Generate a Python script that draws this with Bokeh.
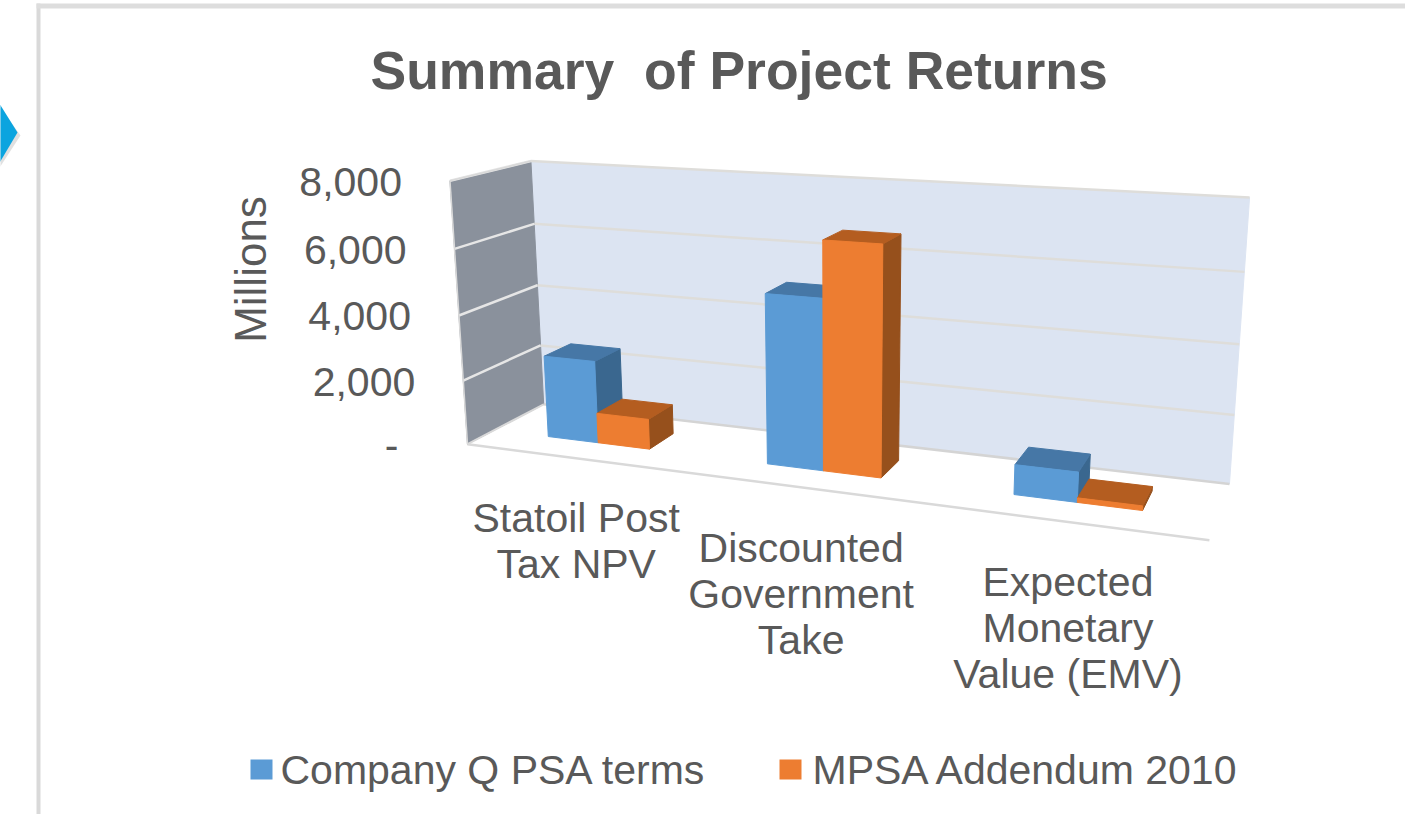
import numpy as np
from bokeh.plotting import figure
from bokeh.models import Range1d
from bokeh.core.properties import value
from bokeh.embed import file_html
from bokeh.resources import INLINE

# ---- data ----
title = "Summary\u00a0 of Project Returns"
y_title = "Millions"
categories = ["Statoil Post\nTax NPV", "Discounted\nGovernment\nTake", "Expected\nMonetary\nValue (EMV)"]
series_names = ["Company Q PSA terms", "MPSA Addendum 2010"]
company_q = [2550, 5050, 860]
mpsa = [930, 6690, 130]
y_ticks = [0, 2000, 4000, 6000, 8000]
y_tick_labels = ["-", "2,000", "4,000", "6,000", "8,000"]
y_max = 8000

# ---- colours ----
INK = "#595959"
BLUE = ("#5B9BD5", "#4677A6", "#3A678F")
ORANGE = ("#ED7D31", "#B45D20", "#96501C")
FONT = value("Liberation Sans")

# ---- camera: a projective map fitted to the box of the 3-D chart ----
# world = (category position 0..3, share of y axis 0..1, depth 0..1) -> page pixel
calib = [
    ((0, 0, 1), (552, 412)), ((0, .25, 1), (549, 352)), ((0, .5, 1), (545, 293)),
    ((0, .75, 1), (541, 230)), ((0, 1, 1), (538, 169)),
    ((3, 0, 1), (1237, 491)), ((3, .25, 1), (1242, 422)), ((3, .5, 1), (1247, 352)),
    ((3, .75, 1), (1252, 280)), ((3, 1, 1), (1257, 206)),
    ((0, 0, 0), (475, 452)), ((0, .25, 0), (471, 388)), ((0, .5, 0), (467, 323)),
    ((0, .75, 0), (463, 256)), ((0, 1, 0), (457, 188)), ((3, 0, 0), (1218, 546)),
    ((.5, 0, .34), (604, 452)), ((1.5, 0, .34), (830, 479)), ((2.5, 0, .34), (1084, 510)),
]
A, b = [], []
for (X, Y, Z), (u, v) in calib:
    A.append([X, Y, Z, 1, 0, 0, 0, 0, -u * X, -u * Y, -u * Z]); b.append(u)
    A.append([0, 0, 0, 0, X, Y, Z, 1, -v * X, -v * Y, -v * Z]); b.append(v)
h = np.linalg.lstsq(np.array(A, float), np.array(b, float), rcond=None)[0]
H = np.append(h, 1.0).reshape(3, 4)


def proj(X, Y, Z):
    r = H @ np.array([X, Y, Z, 1.0])
    return r[0] / r[2], r[1] / r[2]


def poly(pts):
    s = [proj(*q) for q in pts]
    return [q[0] for q in s], [q[1] for q in s]


# ---- page: one data unit is one pixel of the reference ----
p = figure(width=1405, height=814, output_backend="svg", toolbar_location=None,
           x_range=Range1d(8, 1413), y_range=Range1d(822, 8),
           x_axis_location=None, y_axis_location=None, min_border=0,
           outline_line_color=None, background_fill_color="white", border_fill_color="white")
p.grid.visible = False


def face(pts, color, line=None, width=1):
    x, y = poly(pts)
    p.patch(x, y, fill_color=color, line_color=line or color, line_width=width)


def seg(a, b, color, width=2):
    x, y = poly([a, b])
    p.line(x, y, line_color=color, line_width=width)


# slide frame and arrow
p.quad(left=44, right=48, top=11, bottom=822, fill_color="#D9D9D9", line_color=None)
p.quad(left=44, right=1413, top=11, bottom=16, fill_color="#DDDDDD", line_color=None)
p.patch([0, 28, 0], [104, 143, 186], fill_color="#000000", fill_alpha=0.12, line_color=None)
p.patch([0, 25, 0], [100, 140, 182], fill_color="#0BA4DF", line_color=None)

# walls and floor
face([(0, 0, 1), (3, 0, 1), (3, 1, 1), (0, 1, 1)], "#DCE4F2")
face([(0, 0, 0), (0, 0, 1), (0, 1, 1), (0, 1, 0)], "#8A919C")
for t in y_ticks[1:]:
    f = t / y_max
    seg((0, f, 1), (3, f, 1), "#DEDDDA", 2.5)
    seg((0, f, 0), (0, f, 1), "#E6E6E6", 2.5)
seg((0, 0, 0), (3, 0, 0), "#D9D9D9", 2.5)
seg((0, 0, 0), (0, 0, 1), "#D9D9D9", 2)
seg((0, 0, 1), (3, 0, 1), "#D4D4D4", 2.5)
seg((0, 0, 0), (0, 1, 0), "#D9D9D9", 1.5)
seg((0, 1, 0), (0, 1, 1), "#D9D9D9", 1.5)

# bars
BAR = 0.238
Z0, Z1 = 0.34, 0.70


def bar(x0, x1, val, colors):
    f = val / y_max
    front, top, side = colors
    face([(x1, 0, Z0), (x1, 0, Z1), (x1, f, Z1), (x1, f, Z0)], side)
    face([(x0, f, Z0), (x1, f, Z0), (x1, f, Z1), (x0, f, Z1)], top)
    face([(x0, 0, Z0), (x1, 0, Z0), (x1, f, Z0), (x0, f, Z0)], front)


for i in range(len(categories)):
    c = i + 0.5
    bar(c - BAR, c, company_q[i], BLUE)
    bar(c, c + BAR, mpsa[i], ORANGE)


def label(x, y, s, size, align="center", bold=False, angle=0.0):
    p.text([x], [y], text=[s], text_font=FONT, text_font_size=f"{size}px",
           text_font_style="bold" if bold else "normal", text_color=INK,
           text_align=align, text_baseline="middle", angle=angle)


label(378, 78, title, 53.5, align="left", bold=True)
label(258, 277, y_title, 44, angle=np.pi / 2)

for t, s in zip(y_ticks, y_tick_labels):
    x, y = proj(0, t / y_max, 0)
    label(x - (69 if t == 0 else 48), y + 1, s, 41, align="right")

label_nudge = [3, -3, 2.5]
for i, cat in enumerate(categories):
    x, y = proj(i + 0.5, 0, 0)
    for j, line in enumerate(cat.split("\n")):
        label(x + label_nudge[i], y + 60 + 46 * j, line, 41)

# legend
for (lx, tx), name, col in zip([(258, 288), (787, 820)], series_names, [BLUE[0], ORANGE[0]]):
    p.quad(left=lx, right=lx + 22, top=767, bottom=787, fill_color=col, line_color=None)
    label(tx, 777, name, 41, align="left")

open("out.html", "w").write(file_html(p, INLINE))
